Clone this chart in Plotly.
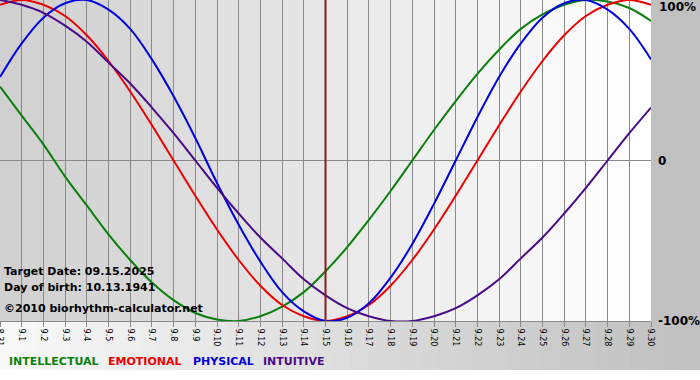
import plotly.graph_objects as go

# ---- data ----
day_labels = ["8.31", "9.1", "9.2", "9.3", "9.4", "9.5", "9.6", "9.7", "9.8", "9.9",
              "9.10", "9.11", "9.12", "9.13", "9.14", "9.15", "9.16", "9.17", "9.18",
              "9.19", "9.20", "9.21", "9.22", "9.23", "9.24", "9.25", "9.26", "9.27",
              "9.28", "9.29", "9.30"]
target_label = "9.15"

intellectual = [0.46, 0.28, 0.10, -0.10, -0.28, -0.46, -0.62, -0.76, -0.87, -0.95, -0.99,
                -1.00, -0.97, -0.91, -0.82, -0.69, -0.54, -0.37, -0.19, 0.00, 0.19, 0.37,
                0.54, 0.69, 0.82, 0.91, 0.97, 1.00, 0.99, 0.95, 0.87]
emotional = [0.97, 1.00, 0.97, 0.90, 0.78, 0.62, 0.43, 0.22, 0.00, -0.22, -0.43, -0.62,
             -0.78, -0.90, -0.97, -1.00, -0.97, -0.90, -0.78, -0.62, -0.43, -0.22, 0.00,
             0.22, 0.43, 0.62, 0.78, 0.90, 0.97, 1.00, 0.97]
physical = [0.52, 0.73, 0.89, 0.98, 1.00, 0.94, 0.82, 0.63, 0.40, 0.14, -0.14, -0.40,
            -0.63, -0.82, -0.94, -1.00, -0.98, -0.89, -0.73, -0.52, -0.27, 0.00, 0.27,
            0.52, 0.73, 0.89, 0.98, 1.00, 0.94, 0.82, 0.63]
intuitive = [1.00, 0.97, 0.92, 0.84, 0.74, 0.61, 0.48, 0.33, 0.17, 0.00, -0.17, -0.33,
             -0.48, -0.61, -0.74, -0.84, -0.92, -0.97, -1.00, -1.00, -0.97, -0.92, -0.84,
             -0.74, -0.61, -0.48, -0.33, -0.17, 0.00, 0.17, 0.33]

series_names = ["INTELLECTUAL", "EMOTIONAL", "PHYSICAL", "INTUITIVE"]
series_colors = ["#0b7f0b", "#ee0000", "#0000e0", "#4b0a87"]
series_values = [intellectual, emotional, physical, intuitive]

info_lines = ["Target Date: 09.15.2025", "Day of birth: 10.13.1941",
              "\u00a92010 biorhythm-calculator.net"]
y_labels = ["100%", "0", "-100%"]

# ---- layout geometry ----
W, H = 700, 380
PL, PR, PT, PB = 0, 651, 0, 321   # plot area pixel box


def xp(px):
    return (px - PL) / (PR - PL)


def yp(py):
    return (PB - py) / (PB - PT)


xs = list(range(len(day_labels)))

fig = go.Figure()
for name, col, vals in zip(series_names, series_colors, series_values):
    fig.add_trace(go.Scatter(x=xs, y=vals, mode="lines", name=name,
                             line=dict(color=col, width=2, shape="spline", smoothing=1.0),
                             showlegend=False, hoverinfo="skip"))

shapes = []
# stepped background shading in the plot area
n = len(day_labels) - 1
for i in range(n):
    v = int(round(0xd0 + (0xff - 0xd0) * i / (n - 1)))
    c = f"rgb({v},{v},{v})"
    shapes.append(dict(type="rect", xref="x", yref="paper", x0=i, x1=i + 1, y0=0, y1=1,
                       fillcolor=c, line=dict(width=0), layer="below"))
# right grey panel
shapes.append(dict(type="rect", xref="paper", yref="paper", x0=xp(PR), x1=xp(W),
                   y0=yp(PB), y1=yp(0), fillcolor="#c0c0c0", line=dict(width=0),
                   layer="below"))
# bottom gradient band
steps = 40
for i in range(steps):
    v = int(round(0xf8 + (0xc0 - 0xf8) * i / (steps - 1)))
    c = f"rgb({v},{v},{v})"
    shapes.append(dict(type="rect", xref="paper", yref="paper",
                       x0=xp(W * i / steps), x1=xp(W * (i + 1) / steps + 0.5),
                       y0=yp(370), y1=yp(PB), fillcolor=c, line=dict(width=0),
                       layer="below"))
# target-date line
ti = day_labels.index(target_label)
shapes.append(dict(type="line", xref="x", yref="paper", x0=ti, x1=ti, y0=0, y1=1,
                   line=dict(color="#8b1c1c", width=2)))

annotations = []
info_y = [271, 287, 308]
for t, py in zip(info_lines, info_y):
    annotations.append(dict(text=t, xref="paper", yref="paper", x=xp(2), y=yp(py),
                            xanchor="left", yanchor="middle", showarrow=False,
                            font=dict(family="DejaVu Sans", size=11, color="#000000",
                                      weight="bold")))
ylab_pos = [(657, 7), (656, 161), (656, 321)]
for t, (px, py) in zip(y_labels, ylab_pos):
    annotations.append(dict(text=t, xref="paper", yref="paper", x=xp(px), y=yp(py),
                            xanchor="left", yanchor="middle", showarrow=False,
                            font=dict(family="DejaVu Sans", size=12, color="#000000",
                                      weight="bold")))
legend_x = [7, 106, 191, 261]
for name, col, px in zip(series_names, series_colors, legend_x):
    annotations.append(dict(text=name, xref="paper", yref="paper", x=xp(px), y=yp(361),
                            xanchor="left", yanchor="middle", showarrow=False,
                            font=dict(family="DejaVu Sans", size=11, color=col,
                                      weight="bold")))

fig.update_layout(
    width=W, height=H,
    margin=dict(l=PL, r=W - PR, t=PT, b=H - PB, pad=0, autoexpand=False),
    paper_bgcolor="#ffffff", plot_bgcolor="rgba(0,0,0,0)",
    shapes=shapes, annotations=annotations,
    xaxis=dict(range=[0, n], tickmode="array", tickvals=xs, ticktext=day_labels,
               tickangle=90, showgrid=True, gridcolor="#8a8a8a", gridwidth=1,
               ticks="outside", ticklen=5, tickcolor="#8a8a8a", showline=True,
               linecolor="#8a8a8a", linewidth=1, zeroline=False, fixedrange=True,
               ticklabeloverflow="allow", automargin=False,
               tickfont=dict(family="DejaVu Sans", size=8, color="#000000")),
    yaxis=dict(range=[-1, 1], showgrid=False, zeroline=True, zerolinecolor="#8a8a8a",
               zerolinewidth=1, showticklabels=False, ticks="", fixedrange=True,
               automargin=False),
)

fig.write_html("out.html", config={"displayModeBar": False},
               post_script="document.body.style.margin='0px';")
